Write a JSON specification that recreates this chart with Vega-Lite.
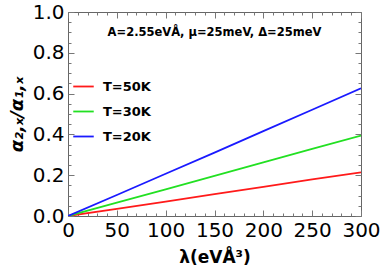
{
  "$schema": "https://vega.github.io/schema/vega-lite/v6.json",
  "autosize": "none",
  "padding": {"left": 68, "top": 12, "right": 21, "bottom": 57},
  "width": 293,
  "height": 204,
  "background": "white",
  "config": {
    "view": {"stroke": "#666666", "strokeWidth": 1},
    "font": "DejaVu Sans",
    "axis": {"grid": false, "domain": false, "tickColor": "#777777", "tickWidth": 1, "labelColor": "black", "titleColor": "black"}
  },
  "datasets": {
    "curves": [
      {"lambda": 0, "ratio": 0, "series": "T=50K"},
      {"lambda": 50, "ratio": 0.035, "series": "T=50K"},
      {"lambda": 100, "ratio": 0.071, "series": "T=50K"},
      {"lambda": 150, "ratio": 0.107, "series": "T=50K"},
      {"lambda": 200, "ratio": 0.143, "series": "T=50K"},
      {"lambda": 250, "ratio": 0.179, "series": "T=50K"},
      {"lambda": 300, "ratio": 0.214, "series": "T=50K"},
      {"lambda": 0, "ratio": 0, "series": "T=30K"},
      {"lambda": 50, "ratio": 0.065, "series": "T=30K"},
      {"lambda": 100, "ratio": 0.131, "series": "T=30K"},
      {"lambda": 150, "ratio": 0.197, "series": "T=30K"},
      {"lambda": 200, "ratio": 0.263, "series": "T=30K"},
      {"lambda": 250, "ratio": 0.329, "series": "T=30K"},
      {"lambda": 300, "ratio": 0.394, "series": "T=30K"},
      {"lambda": 0, "ratio": 0, "series": "T=20K"},
      {"lambda": 50, "ratio": 0.103, "series": "T=20K"},
      {"lambda": 100, "ratio": 0.207, "series": "T=20K"},
      {"lambda": 150, "ratio": 0.311, "series": "T=20K"},
      {"lambda": 200, "ratio": 0.416, "series": "T=20K"},
      {"lambda": 250, "ratio": 0.521, "series": "T=20K"},
      {"lambda": 300, "ratio": 0.626, "series": "T=20K"}
    ],
    "note": [
      {"lambda": 150, "ratio": 0.897, "text": "A=2.55eVÅ, μ=25meV, Δ=25meV"}
    ]
  },
  "layer": [
    {
      "data": {"name": "curves"},
      "mark": {"type": "line", "strokeWidth": 1.8, "clip": true},
      "encoding": {
        "x": {
          "field": "lambda", "type": "quantitative",
          "scale": {"domain": [0, 300], "nice": false, "zero": false},
          "axis": {
            "orient": "bottom",
            "values": [0,10,20,30,40,50,60,70,80,90,100,110,120,130,140,150,160,170,180,190,200,210,220,230,240,250,260,270,280,290,300],
            "labelExpr": "datum.value % 50 === 0 ? datum.label : ''",
            "tickSize": {"condition": {"test": "datum.value % 50 === 0", "value": -6}, "value": -3},
            "labelFontSize": 20, "labelPadding": 10, "labelFlush": false, "labelOverlap": false,
            "title": "λ(eVÅ³)", "titleFontSize": 17, "titleFontWeight": "bold", "titlePadding": 6
          }
        },
        "y": {
          "field": "ratio", "type": "quantitative",
          "scale": {"domain": [0, 1], "nice": false, "zero": false},
          "axis": {
            "orient": "left",
            "values": [0,0.05,0.1,0.15,0.2,0.25,0.3,0.35,0.4,0.45,0.5,0.55,0.6,0.65,0.7,0.75,0.8,0.85,0.9,0.95,1.0],
            "format": ".1f",
            "labelExpr": "round(datum.value*100) % 20 === 0 ? datum.label : ''",
            "tickSize": {"condition": {"test": "round(datum.value*100) % 20 === 0", "value": -6}, "value": -3},
            "labelFontSize": 20, "labelPadding": 10, "labelFlush": false, "labelOverlap": false,
            "title": "α₂,ₓ/α₁,ₓ", "titleFontSize": 18, "titleFontWeight": "bold", "titleFontStyle": "italic", "titlePadding": 6
          }
        },
        "color": {
          "field": "series", "type": "nominal",
          "scale": {"domain": ["T=50K", "T=30K", "T=20K"], "range": ["#ff1a1a", "#22e022", "#1a1aff"]},
          "legend": {
            "orient": "none", "legendX": 4, "legendY": 63, "title": null,
            "symbolType": "stroke", "symbolSize": 420, "symbolStrokeWidth": 1.8,
            "labelFontSize": 13, "labelFontWeight": "bold", "labelColor": "black",
            "rowPadding": 6, "labelOffset": 8
          }
        }
      }
    },
    {
      "data": {"name": "curves"},
      "mark": {"type": "line", "opacity": 0},
      "encoding": {
        "x": {
          "field": "lambda", "type": "quantitative",
          "scale": {"domain": [0, 300], "nice": false, "zero": false},
          "axis": {
            "orient": "top",
            "values": [0,10,20,30,40,50,60,70,80,90,100,110,120,130,140,150,160,170,180,190,200,210,220,230,240,250,260,270,280,290,300],
            "labels": false, "title": null,
            "tickSize": {"condition": {"test": "datum.value % 50 === 0", "value": -6}, "value": -3}
          }
        },
        "y": {
          "field": "ratio", "type": "quantitative",
          "scale": {"domain": [0, 1], "nice": false, "zero": false},
          "axis": {
            "orient": "right",
            "values": [0,0.05,0.1,0.15,0.2,0.25,0.3,0.35,0.4,0.45,0.5,0.55,0.6,0.65,0.7,0.75,0.8,0.85,0.9,0.95,1.0],
            "labels": false, "title": null,
            "tickSize": {"condition": {"test": "round(datum.value*100) % 20 === 0", "value": -6}, "value": -3}
          }
        }
      }
    },
    {
      "data": {"name": "note"},
      "mark": {"type": "text", "fontSize": 11.5, "fontWeight": "bold", "color": "black", "font": "DejaVu Sans"},
      "encoding": {
        "x": {"field": "lambda", "type": "quantitative", "scale": {"domain": [0, 300], "nice": false, "zero": false}, "axis": null},
        "y": {"field": "ratio", "type": "quantitative", "scale": {"domain": [0, 1], "nice": false, "zero": false}, "axis": null},
        "text": {"field": "text"}
      }
    }
  ],
  "resolve": {"scale": {"x": "independent", "y": "independent"}}
}
